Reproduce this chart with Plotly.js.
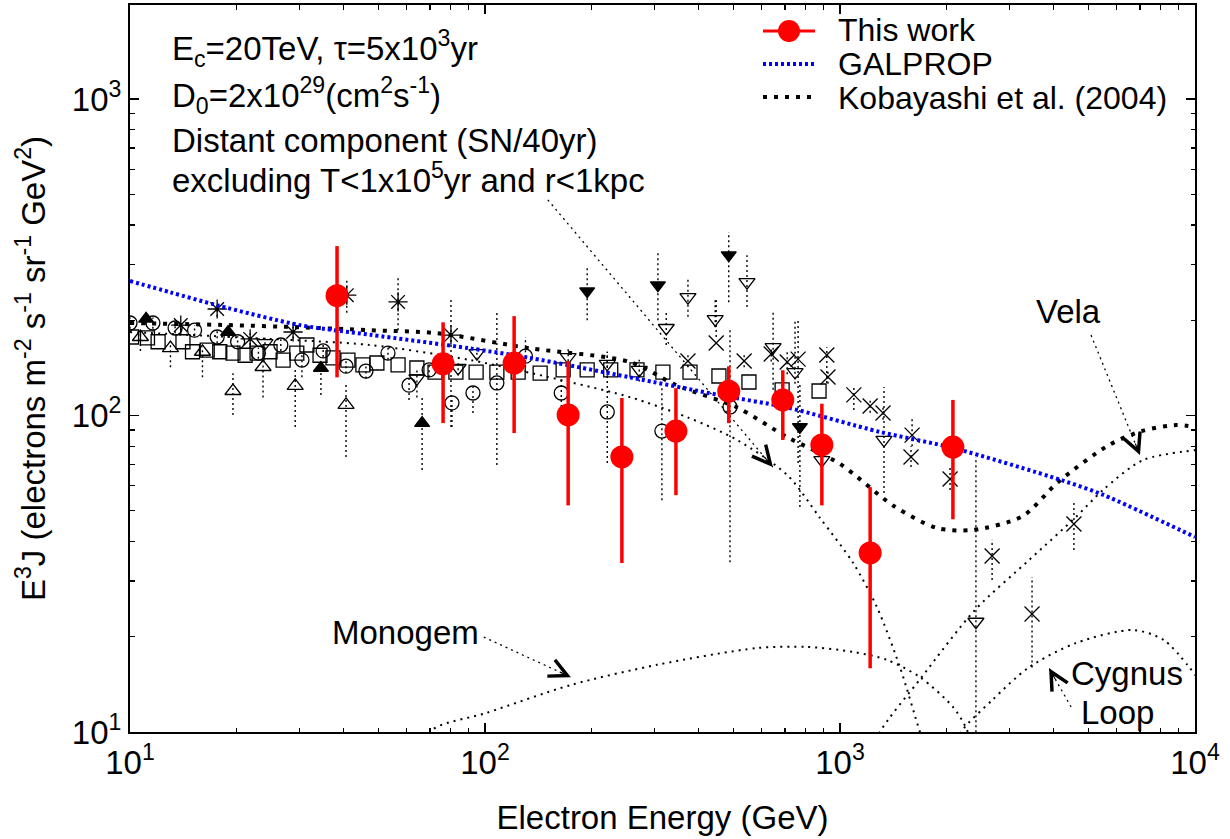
<!DOCTYPE html>
<html><head><meta charset="utf-8">
<script src="https://cdn.plot.ly/plotly-3.0.1.min.js"></script>
<style>html,body{margin:0;padding:0;background:#fff}#chart{width:1230px;height:839px}</style>
</head><body><div id="chart"></div>
<script>
// ---------------- DATA ----------------
// This work
const thisE  = [38.3, 76.2, 120.8, 171.5, 243, 345, 486, 690, 889, 1216, 2080];
const thisJ  = [239, 145.6, 146.5, 100.4, 74, 89.3, 119.4, 112, 80.7, 36.8, 79.5];
const thisHi = [343, 197, 206, 148.6, 113.6, 122, 143, 139, 109, 59.4, 112];
const thisLo = [132, 94.6, 88, 52, 34.2, 56, 94.6, 83.7, 52, 15.9, 47];

// GALPROP
const galE = [10, 13.0, 17.6, 30.1, 47.4, 90.6, 134, 256, 458, 709, 1297, 2086, 4200, 5520, 10000];
const galJ = [266, 245, 223, 193, 180, 163, 152, 132, 116, 106, 88.7, 78.9, 62.5, 56.1, 41.3];

// Kobayashi et al. (2004)
const kobE = [10, 19.1, 30.1, 47.4, 73.2, 134, 256, 346, 513, 709, 1000, 1416, 1878, 2373, 3270, 4120, 5730, 7100, 8880, 10000];
const kobJ = [196, 193, 190, 186, 182, 163, 147.6, 124.7, 106, 85.5, 70.3, 51.8, 44.1, 43.5, 48.1, 61.7, 80.7, 89.4, 93.3, 92];

// Model components
const distE = [10, 21.8, 47.4, 90.8, 173, 256, 371, 513, 710, 879, 1089, 1271, 1476, 1680, 1794];
const distJ = [183.5, 175.8, 167, 149.7, 127.6, 114.3, 98.8, 83.7, 64.9, 47.4, 34.2, 24.8, 16.0, 10, 8.1];
const monoE = [65.6, 71, 100.7, 174.6, 305, 584, 807, 1089, 1356, 1680, 2080, 2279, 2400];
const monoJ = [8.16, 10.15, 11.48, 14.08, 16.3, 18.42, 18.57, 17.9, 16.9, 14.9, 12.0, 10.15, 8.1];
const velaE = [1216, 1297, 1690, 2400, 3404, 4620, 5510, 7140, 10130];
const velaJ = [8.16, 10, 14.8, 24.3, 34.9, 47.8, 58.2, 72.3, 77.8];
const cygE  = [2042, 2193, 2682, 3404, 4620, 6680, 8180, 10130];
const cygJ  = [8.16, 10, 12.6, 16.0, 19.1, 21.0, 19.5, 14.9];

// Other measurements
const sqE = [10.1, 11.2, 12.0, 14.1, 15.0, 16.5, 17.9, 19.5, 21.1, 22.8, 24.8, 27.0, 29.5, 31.5, 34.3, 37.3, 41.1, 45.3, 49.6, 56.9, 64.3, 72.3, 82.8, 94.4, 108, 124, 143, 166, 194, 226, 268, 317, 378, 456, 554, 687, 873];
const sqJ = [177, 176, 171, 171, 159, 161, 159, 157.5, 155, 157.5, 159, 149.7, 157.5, 167, 155, 152, 149.7, 144.5, 146.5, 144.5, 141.3, 137.2, 137.2, 137.2, 137.2, 137.2, 136.2, 139.3, 139.3, 139.3, 139.3, 137.2, 137.2, 133.3, 127.6, 120.5, 119.5];

const circE  = [10, 11.6, 13.4, 15.2, 17.6, 20.1, 23.0, 26.6, 30.5, 35.0, 40.6, 46.2, 53.3, 61.1, 69.6, 80.7, 92.5, 108, 130, 164, 221, 315, 490];
const circJ  = [196, 196, 189, 186, 177, 171, 157.5, 167, 149.7, 160, 143.2, 138.2, 157.5, 124.7, 139.3, 109.6, 117.8, 126.7, 154, 117.8, 102.6, 89.3, 106.4];
const circHi = [204, 204, 196, 193, 185, 178, 164, 174, 156, 167, 150, 145, 165, 131, 146, 115, 123, 211, 177, 132, 159, 123, 186];
const circLo = [188, 188, 182, 179, 169, 164, 151, 160, 132, 153, 136, 131, 150, 112, 132, 92, 101.9, 69.8, 137, 98.9, 70.8, 54, 34.4];

const tuE  = [10.7, 13.0, 16.0, 19.5, 23.7, 29.2, 40.6];
const tuJ  = [177, 163.3, 159, 119.5, 142.3, 124, 108];
const tuHi = [185, 171, 165, 136, 153, 142, 127];
const tuLo = [160, 142, 132, 100.4, 114, 92, 74];

const tdE  = [24.0, 64.3, 84.0, 94.9, 171.5, 221, 272, 324, 373, 445, 547, 648, 747, 889, 1330, 2415];
const tdJ  = [169.4, 131, 141.3, 157.5, 153, 145.6, 139.3, 189, 236.6, 201.6, 264, 164.4, 137.2, 72.3, 83.7, 22.3];
const tdHi = [176, 139, 148, 165, 162, 159, 150, 215, 274, 235, 321, 211, 200, 82, 123, 74];
const tdLo = [162, 114, 134, 150, 138, 132, 128, 167, 205, 190, 220, 120.5, 126, 62, 56.9, 5];

const fuE  = [11.1, 18.9, 34.5, 66.5];
const fuJ  = [202, 183.6, 141.3, 94.6];
const fuHi = [210, 190, 146, 114];
const fuLo = [193, 176, 116, 67.3];

const fdE  = [194, 307, 486, 771];
const fdJ  = [247, 258, 321, 92];
const fdHi = [294, 329, 380, 126.7];
const fdLo = [200, 200, 228, 51.4];

const stE  = [13.9, 17.6, 21.8, 28.8, 40.8, 56.9, 80.2];
const stJ  = [193, 217, 174.6, 183.6, 240, 228.5, 179.5];
const stHi = [200, 228, 182, 192, 268, 274, 236.6];
const stLo = [186, 205, 167, 175, 211, 186, 92];

const crE  = [373, 448, 537, 640, 710, 762, 918, 925, 1094, 1216, 1322, 1596, 1585, 2042, 2682, 3475, 4560];
const crJ  = [148.6, 169.4, 148.6, 156.4, 147.5, 150.7, 155.2, 132.4, 116.2, 107.2, 101.8, 86.7, 73.9, 63, 36, 23.6, 45.4];
const crHi = [155, 235, 155, 164, 160, 200, 164.4, 138, 123, 112, 106, 98.9, 80, 68.7, 40.5, 30.9, 54.1];
const crLo = [142, 177, 142, 148, 135, 70.8, 126.7, 126, 104, 102, 97, 80, 68.7, 58.2, 30.2, 16.0, 37.6];

// Annotation arrows: [tailE, tailJ, headE, headJ]
const arrowDistant = [150.3, 480, 647, 68.7];
const arrowMonogem = [99.2, 19.95, 174.6, 14.9];
const arrowVela    = [5095, 179.5, 6998, 75];
const arrowCygnus  = [4477, 12.0, 3882, 15.9];

// Tick labels
const xTickVals = [10, 100, 1000, 10000];
const xTickText = ['10<sup>1</sup>', '10<sup>2</sup>', '10<sup>3</sup>', '10<sup>4</sup>'];
const yTickVals = [10, 100, 1000];
const yTickText = ['10<sup>1</sup>', '10<sup>2</sup>', '10<sup>3</sup>'];

// ---------------- LAYOUT HELPERS ----------------
const W = 1230, H = 839, ML = 130, MR = 35, MT = 5, MB = 107;
const PW = W - ML - MR, PH = H - MT - MB;
const px = x => (x - ML) / PW;
const py = y => (H - MB - y) / PH;
const FONT = 'Liberation Sans, Arial, Helvetica, sans-serif';
const FS = 33;
const LFS = 32;

function minorVals(maxDec) {
  const v = [];
  for (let d = 1; d <= maxDec; d++) for (let k = 2; k <= 9; k++) v.push(k * Math.pow(10, d));
  return v;
}

function errLines(E, lo, hi) {
  const x = [], y = [];
  for (let i = 0; i < E.length; i++) { x.push(E[i], E[i], null); y.push(lo[i], hi[i], null); }
  return {x, y, mode: 'lines', type: 'scatter', hoverinfo: 'skip', showlegend: false,
          line: {color: 'black', width: 1.4, dash: '2px,3px'}};
}
function markers(E, J, symbol, size) {
  return {x: E, y: J, mode: 'markers', type: 'scatter', showlegend: false,
          marker: {symbol: symbol, size: size, color: 'black', line: {color: 'black', width: 1.3}}};
}
function model(E, J, width, dash) {
  return {x: E, y: J, mode: 'lines', type: 'scatter', showlegend: false, hoverinfo: 'skip',
          line: {color: 'black', width: width, dash: dash, shape: 'spline', smoothing: 0.8}};
}
function arrowLine(a) {
  return {x: [a[0], a[2]], y: [a[1], a[3]], mode: 'lines', type: 'scatter', showlegend: false,
          hoverinfo: 'skip', line: {color: 'black', width: 1.3, dash: '2px,4px'}};
}

const traces = [
  errLines(circE, circLo, circHi),
  errLines(tuE, tuLo, tuHi),
  errLines(tdE, tdLo, tdHi),
  errLines(fuE, fuLo, fuHi),
  errLines(fdE, fdLo, fdHi),
  errLines(stE, stLo, stHi),
  errLines(crE, crLo, crHi),
  markers(sqE, sqJ, 'square-open', 14),
  markers(circE, circJ, 'circle-open', 14),
  markers(tuE, tuJ, 'triangle-up-open', 14),
  markers(tdE, tdJ, 'triangle-down-open', 14),
  markers(fuE, fuJ, 'triangle-up', 13),
  markers(fdE, fdJ, 'triangle-down', 13),
  markers(stE, stJ, 'asterisk-open', 16),
  markers(crE, crJ, 'x-thin-open', 15),
  model(distE, distJ, 2, '2px,5px'),
  model(monoE, monoJ, 2, '2px,5px'),
  model(velaE, velaJ, 2, '2px,5px'),
  model(cygE, cygJ, 2, '2px,5px'),
  arrowLine(arrowDistant), arrowLine(arrowMonogem), arrowLine(arrowVela), arrowLine(arrowCygnus),
  {x: kobE, y: kobJ, mode: 'lines', type: 'scatter', name: 'Kobayashi et al. (2004)', showlegend: false,
   line: {color: 'black', width: 4, dash: '4px,7px', shape: 'spline', smoothing: 0.8}},
  {x: galE, y: galJ, mode: 'lines', type: 'scatter', name: 'GALPROP', showlegend: false,
   line: {color: '#0000ff', width: 4, dash: '3px,3px', shape: 'spline', smoothing: 0.8}},
  {x: thisE, y: thisJ, mode: 'markers', type: 'scatter', name: 'This work', showlegend: false,
   marker: {symbol: 'circle', size: 23, color: '#ff0000'},
   error_y: {type: 'data', symmetric: false,
             array: thisHi.map((h, i) => h - thisJ[i]),
             arrayminus: thisLo.map((l, i) => thisJ[i] - l),
             color: '#ff0000', thickness: 3.5, width: 0}}
];

function arrowHead(a, ax, ay) {
  return {x: Math.log10(a[2]), y: Math.log10(a[3]), xref: 'x', yref: 'y', text: '', showarrow: true,
          arrowhead: 5, arrowsize: 3.2, arrowwidth: 1.1, arrowcolor: 'black', ax: ax, ay: ay, standoff: 0};
}
function txt(text, x, y, anchor, size) {
  return {text: text, x: px(x), y: py(y), xref: 'paper', yref: 'paper', showarrow: false,
          xanchor: anchor || 'left', yanchor: 'middle', font: {size: size || FS, color: 'black', family: FONT}};
}

const annotations = [
  txt('E<sub>c</sub>=20TeV, τ=5x10<sup>3</sup>yr', 170, 48),
  txt('D<sub>0</sub>=2x10<sup>29</sup>(cm<sup>2</sup>s<sup>-1</sup>)', 170, 95),
  txt('Distant component (SN/40yr)', 170, 141),
  txt('excluding T&lt;1x10<sup>5</sup>yr and r&lt;1kpc', 170, 178),
  txt('This work', 836, 30, 'left', LFS),
  txt('GALPROP', 836, 64, 'left', LFS),
  txt('Kobayashi et al. (2004)', 836, 98, 'left', LFS),
  txt('Vela', 1068, 312, 'center'),
  txt('Monogem', 405, 632, 'center'),
  txt('Cygnus', 1127, 673, 'center'),
  txt('Loop', 1117, 712, 'center'),
  arrowHead(arrowDistant, -9, -10.7),
  arrowHead(arrowMonogem, -12.7, -5.9),
  arrowHead(arrowVela, -5.3, -13),
  arrowHead(arrowCygnus, 6.9, 12.2)
];

const shapes = [
  {type: 'line', xref: 'paper', yref: 'paper', x0: px(763), x1: px(815), y0: py(31), y1: py(31),
   line: {color: '#ff0000', width: 3}},
  {type: 'circle', xref: 'paper', yref: 'paper', x0: px(778), x1: px(800), y0: py(42), y1: py(20),
   fillcolor: '#ff0000', line: {color: '#ff0000', width: 0}},
  {type: 'line', xref: 'paper', yref: 'paper', x0: px(763), x1: px(815), y0: py(64), y1: py(64),
   line: {color: '#0000ff', width: 4, dash: '3px,3px'}},
  {type: 'line', xref: 'paper', yref: 'paper', x0: px(763), x1: px(815), y0: py(97), y1: py(97),
   line: {color: 'black', width: 4, dash: '4px,7px'}}
];

const axisCommon = {
  type: 'log', tickmode: 'array', ticks: 'inside', ticklen: 9, tickwidth: 1.5, tickcolor: 'black',
  showline: true, linewidth: 2, linecolor: 'black', mirror: 'ticks', showgrid: false, zeroline: false,
  tickfont: {size: FS, color: 'black', family: FONT}, automargin: false
};

const layout = {
  width: W, height: H,
  margin: {l: ML, r: MR, t: MT, b: MB},
  paper_bgcolor: 'white', plot_bgcolor: 'white',
  showlegend: false,
  font: {family: FONT, size: FS, color: 'black'},
  xaxis: Object.assign({}, axisCommon, {
    range: [1, 4], tickvals: xTickVals, ticktext: xTickText,
    title: {text: 'Electron Energy (GeV)', font: {size: FS, family: FONT, color: 'black'}, standoff: 26},
    minor: {tickmode: 'array', tickvals: minorVals(3), ticks: 'inside', ticklen: 4.5, tickwidth: 1.2, tickcolor: 'black', showgrid: false}
  }),
  yaxis: Object.assign({}, axisCommon, {
    range: [1, 3.297], tickvals: yTickVals, ticktext: yTickText,
    title: {text: 'E<sup>3</sup>J (electrons m<sup>-2</sup> s<sup>-1</sup> sr<sup>-1</sup> GeV<sup>2</sup>)', font: {size: FS, family: FONT, color: 'black'}, standoff: 16},
    minor: {tickmode: 'array', tickvals: minorVals(2).concat([2000]).filter(v => v < 1980), ticks: 'inside', ticklen: 4.5, tickwidth: 1.2, tickcolor: 'black', showgrid: false}
  }),
  annotations: annotations,
  shapes: shapes
};

Plotly.newPlot('chart', traces, layout, {displayModeBar: false, staticPlot: true});
</script></body></html>
